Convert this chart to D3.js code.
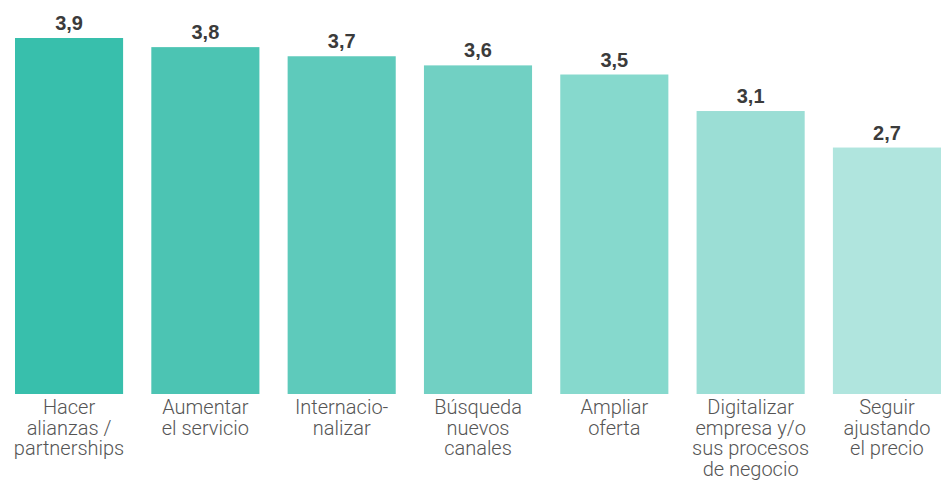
<!DOCTYPE html>
<html>
<head>
<meta charset="utf-8">
<script src="https://cdn.jsdelivr.net/npm/d3@7"></script>
<style>
  html, body { margin: 0; padding: 0; background: #ffffff; }
  svg { display: block; }
</style>
</head>
<body>
<svg id="chart" width="941" height="482"></svg>
<script>
// Prioridades empresariales (puntuación media)
const categories = [
  ["Hacer", "alianzas /", "partnerships"],
  ["Aumentar", "el servicio"],
  ["Internacio-", "nalizar"],
  ["Búsqueda", "nuevos", "canales"],
  ["Ampliar", "oferta"],
  ["Digitalizar", "empresa y/o", "sus procesos", "de negocio"],
  ["Seguir", "ajustando", "el precio"]
];
const values = [3.9, 3.8, 3.7, 3.6, 3.5, 3.1, 2.7];
const colors = ["#38bfac", "#4cc4b3", "#5ecabb", "#71d0c3", "#86d9cd", "#9bded5", "#b0e5de"];

const width = 941, height = 482;
const svg = d3.select("#chart");

const x = d3.scaleBand()
  .domain(d3.range(values.length))
  .range([15, 941])
  .paddingInner(0.207)
  .paddingOuter(0);

const y = d3.scaleLinear()
  .domain([0, 3.9])
  .range([394, 38]);

const fmt = v => d3.format(".1f")(v).replace(".", ",");

// Barras
svg.append("g").selectAll("rect")
  .data(values)
  .join("rect")
  .attr("x", (d, i) => x(i))
  .attr("y", d => y(d))
  .attr("width", x.bandwidth())
  .attr("height", d => y(0) - y(d))
  .attr("fill", (d, i) => colors[i]);

// Etiquetas de valor
svg.append("g").selectAll("text")
  .data(values)
  .join("text")
  .attr("x", (d, i) => x(i) + x.bandwidth() / 2)
  .attr("y", d => y(d) - 8)
  .attr("text-anchor", "middle")
  .attr("font-family", "'Liberation Sans', Arial, sans-serif")
  .attr("font-weight", "bold")
  .attr("font-size", 20)
  .attr("fill", "#3b3b3b")
  .text(d => fmt(d));

// Etiquetas de categoría
const cat = svg.append("g").selectAll("text")
  .data(categories)
  .join("text")
  .attr("x", (d, i) => x(i) + x.bandwidth() / 2)
  .attr("y", 414)
  .attr("text-anchor", "middle")
  .attr("font-family", "Roboto, 'Liberation Sans', sans-serif")
  .attr("font-weight", 300)
  .attr("font-size", 20)
  .attr("fill", "#555555");

cat.selectAll("tspan")
  .data(d => d)
  .join("tspan")
  .attr("x", function () { return d3.select(this.parentNode).attr("x"); })
  .attr("dy", (d, i) => i === 0 ? 0 : 20.5)
  .text(d => d);
</script>
</body>
</html>
